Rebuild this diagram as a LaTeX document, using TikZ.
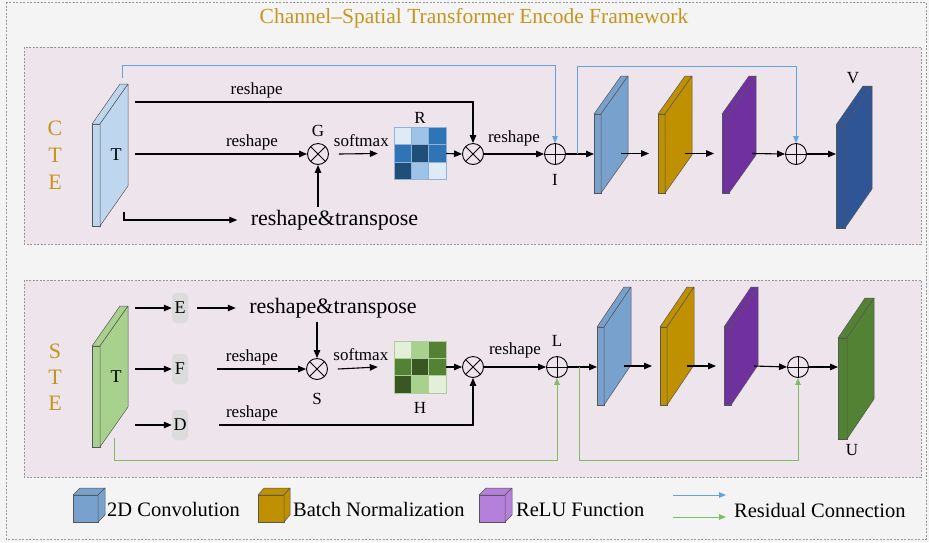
\documentclass[tikz,border=0pt]{standalone}
\usepackage{fontspec}
\setmainfont{Liberation Serif}
\usetikzlibrary{arrows.meta}

\definecolor{canvasbg}{RGB}{244,244,244}
\definecolor{panelbg}{RGB}{237,228,236}
\definecolor{framegray}{RGB}{150,150,150}
\definecolor{titlegold}{RGB}{197,150,30}
\definecolor{edgegray}{RGB}{85,85,85}
\definecolor{tblue}{RGB}{190,215,238}
\definecolor{tgreen}{RGB}{169,209,142}
\definecolor{convblue}{RGB}{120,161,205}
\definecolor{bngold}{RGB}{191,144,0}
\definecolor{relupurple}{RGB}{112,48,160}
\definecolor{relulight}{RGB}{181,128,220}
\definecolor{vblue}{RGB}{47,85,151}
\definecolor{ugreen}{RGB}{84,130,53}
\definecolor{resblue}{RGB}{100,162,222}
\definecolor{resgreen}{RGB}{128,188,98}
\definecolor{boxgray}{RGB}{220,220,220}
\definecolor{mb1}{RGB}{222,235,247}
\definecolor{mb2}{RGB}{157,195,230}
\definecolor{mb3}{RGB}{46,117,182}
\definecolor{mb4}{RGB}{31,78,121}
\definecolor{mg1}{RGB}{226,240,217}
\definecolor{mg2}{RGB}{169,209,142}
\definecolor{mg3}{RGB}{84,130,53}
\definecolor{mg4}{RGB}{56,87,35}
\definecolor{rline}{RGB}{150,175,215}
\definecolor{gline}{RGB}{175,205,155}

% slab: name, front centre, width, height, fill, depth x, depth y
\newcommand{\layer}[7]{%
  \node[inner sep=0pt, outer sep=0pt, minimum width=#3, minimum height=#4, fill=#5, draw=edgegray, line width=0.5pt] (#1) at (#2) {};
  \filldraw[fill=#5, draw=edgegray, line width=0.5pt, line join=round] (#1.north west) -- ++(#6,#7) -- ++(#3,0) -- (#1.north east) -- cycle;
  \filldraw[fill=#5, draw=edgegray, line width=0.5pt, line join=round] (#1.north east) -- ++(#6,#7) -- ++(0,#4) -- (#1.south east) -- cycle;
}

\begin{document}
\begin{tikzpicture}[x=1pt, y=-1pt,
    arr/.style={-{Triangle[length=8pt,width=6.5pt]}, line width=1.1pt},
    resb/.style={-{Triangle[length=7pt,width=5.5pt]}, line width=1pt, resblue},
    resg/.style={-{Triangle[length=7pt,width=5.5pt]}, line width=1pt, resgreen},
    lbl/.style={font=\fontsize{17}{20}\selectfont},
    big/.style={font=\fontsize{22}{26}\selectfont},
    side/.style={font=\fontsize{22}{26}\selectfont, text=titlegold},
    leg/.style={font=\fontsize{20.5}{24}\selectfont, inner sep=2pt},
    otimes/.style={circle, draw, line width=0.9pt, minimum size=21pt, inner sep=0pt,
      path picture={\draw[line width=0.9pt] (path picture bounding box.north west) -- (path picture bounding box.south east)
        (path picture bounding box.north east) -- (path picture bounding box.south west);}},
    oplus/.style={circle, draw, line width=0.9pt, minimum size=21pt, inner sep=0pt,
      path picture={\draw[line width=0.9pt] (path picture bounding box.north) -- (path picture bounding box.south)
        (path picture bounding box.west) -- (path picture bounding box.east);}},
    gbox/.style={rounded corners=4pt, fill=boxgray, minimum width=16pt, minimum height=30pt, inner sep=0pt, font=\fontsize{18}{21}\selectfont},
    mat/.style={minimum size=52pt, inner sep=0pt},
    panelbox/.style={draw=framegray, dash pattern=on 2pt off 1.5pt, line width=0.6pt}]

    \useasboundingbox (0,0) rectangle (929,542);
    \fill[canvasbg] (0,0) rectangle (929,542);
    \draw[panelbox] (6,2) rectangle (926,539);

    % Title
    \node[font=\fontsize{21.5}{25}\selectfont, text=titlegold] (title) at (474,18) {Channel–Spatial Transformer Encode Framework};

    % Panels
    \filldraw[panelbox, fill=panelbg] (24,47) rectangle (921,244);
    \filldraw[panelbox, fill=panelbg] (24,280) rectangle (921,477);

    % ---------------- CTE branch ----------------
    \node[side] (cl1) at (55,128) {C};
    \node[side] (cl2) at (55,155) {T};
    \node[side] (cl3) at (55,182) {E};

    \layer{tc}{96,175}{8}{102}{tblue}{28}{-40}
    \node[font=\fontsize{18}{21}\selectfont] (tclab) at (116,155) {T};

    \node[otimes] (G) at (318,154) {};
    \node[lbl, above=3pt] (glab) at (G.north) {G};
    \node[mat] (R) at (420,153.5) {};
    \begin{scope}[shift={(R.north west)}]
      \foreach \i/\j/\c in {0/0/mb1,1/0/mb2,2/0/mb3,0/1/mb3,1/1/mb4,2/1/mb3,0/2/mb4,1/2/mb2,2/2/mb1}
        \filldraw[fill=\c, draw=rline, line width=0.5pt] (\i*17.33,\j*17.33) rectangle ++(17.33,17.33);
    \end{scope}
    \node[lbl, above=0pt] (rlab) at (R.north) {R};
    \node[otimes] (mc) at (473,154) {};
    \node[oplus] (I) at (555,154) {};
    \node[lbl, below=6pt] (ilab) at (I.south) {I};
    \node[big] (rtc) at (334.5,220) {reshape\&transpose};

    \layer{convc}{597.5,153.5}{7}{79}{convblue}{27}{-38}
    \layer{bnc}{661.5,153.5}{7}{79}{bngold}{27}{-38}
    \layer{reluc}{725.5,153.5}{7}{79}{relupurple}{27}{-38}
    \node[oplus] (pc) at (796,154) {};
    \layer{vc}{840.5,176.5}{9}{103}{vblue}{27}{-39}
    \node[lbl] (vlab) at (853,78) {V};

    \coordinate (c1) at (135,102);
    \coordinate (c2) at (135,154);
    \coordinate (c3) at (124,212);
    \draw[arr] (c1) -- node[lbl, above, pos=0.36] {reshape} (c1 -| mc) -- (mc.north);
    \draw[arr] (c2) -- node[lbl, above, pos=0.68] {reshape} (G.west);
    \draw[arr] (c3) |- ([xshift=-10pt]rtc.west);
    \draw[arr] (rtc.north -| G) -- (G.south);
    \draw[arr] ([xshift=10pt]G.east) -- node[lbl, above=3pt, xshift=3pt] {softmax} ([xshift=-16pt]R.west);
    \draw[arr] (R.east) -- (mc.west);
    \draw[arr] (mc.east) -- node[lbl, above=4pt] {reshape} (I.west);
    \draw[arr] (I.east) -- (I.east -| convc.west);
    \draw[arr] ([xshift=20pt]convc.east) -- ([xshift=-9pt]bnc.west);
    \draw[arr] ([xshift=20pt]bnc.east) -- ([xshift=-8pt]reluc.west);
    \draw[arr] ([xshift=23pt]reluc.east) -- (pc.west);
    \draw[arr] (pc.east) -- (pc.east -| vc.west);

    % residual (blue)
    \coordinate (rb0) at (122,78);
    \coordinate (rb1) at (577,154);
    \draw[resb] (rb0) -- ++(0,-13) -| (I.north);
    \draw[resb] (rb1) -- ++(0,-88) -| (pc.north);

    % ---------------- STE branch ----------------
    \node[side] (sl1) at (55,351) {S};
    \node[side] (sl2) at (55,377) {T};
    \node[side] (sl3) at (55,403) {E};

    \layer{ts}{96,396.5}{8}{101}{tgreen}{28}{-40}
    \node[font=\fontsize{18}{21}\selectfont] (tslab) at (116,377) {T};

    \node[gbox] (E) at (180,308) {E};
    \node[gbox] (F) at (180,369) {F};
    \node[gbox] (D) at (180,425) {D};
    \node[big] (rts) at (333,308) {reshape\&transpose};
    \node[otimes] (S) at (317,369) {};
    \node[lbl, below=10pt] (slab) at (S.south) {S};
    \node[mat] (H) at (420,367) {};
    \begin{scope}[shift={(H.north west)}]
      \foreach \i/\j/\c in {0/0/mg1,1/0/mg2,2/0/mg3,0/1/mg3,1/1/mg4,2/1/mg3,0/2/mg4,1/2/mg2,2/2/mg1}
        \filldraw[fill=\c, draw=gline, line width=0.5pt] (\i*17.33,\j*17.33) rectangle ++(17.33,17.33);
    \end{scope}
    \node[lbl, below=6pt] (hlab) at (H.south) {H};
    \node[otimes] (ms) at (473,367) {};
    \node[oplus] (L) at (557,367) {};
    \node[lbl, above=6pt] (llab) at (L.north) {L};

    \layer{convs}{600.5,366}{7}{78}{convblue}{27}{-40}
    \layer{bns}{663.5,366}{7}{78}{bngold}{27}{-40}
    \layer{relus}{727.5,366}{7}{78}{relupurple}{27}{-40}
    \node[oplus] (ps) at (798,367) {};
    \layer{us}{842.5,388.5}{9}{101}{ugreen}{27}{-40}
    \node[lbl] (ulab) at (852,450) {U};

    \coordinate (se) at (135,308);
    \coordinate (sf) at (135,369);
    \coordinate (sd) at (135,425);
    \coordinate (d1) at (219,425);
    \draw[arr] (se) -- (E.west);
    \draw[arr] (sf) -- (F.west);
    \draw[arr] (sd) -- (D.west);
    \draw[arr] ([xshift=9pt]E.east) -- ([xshift=-10pt]rts.west);
    \draw[arr] (rts.south -| S) -- (S.north);
    \draw[arr] ([xshift=29pt]F.east) -- node[lbl, above, pos=0.39] {reshape} (S.west);
    \draw[arr] ([xshift=10pt]S.east) -- node[lbl, above=3pt, xshift=3pt] {softmax} ([xshift=-16pt]H.west);
    \draw[arr] (H.east) -- (ms.west);
    \draw[arr] (d1) -- node[lbl, above, pos=0.13] {reshape} (d1 -| ms) -- (ms.south);
    \draw[arr] (ms.east) -- node[lbl, above=5pt] {reshape} (L.west);
    \draw[arr] (L.east) -- (L.east -| convs.west);
    \draw[arr] ([xshift=20pt]convs.east) -- ([xshift=-8pt]bns.west);
    \draw[arr] ([xshift=20pt]bns.east) -- ([xshift=-8pt]relus.west);
    \draw[arr] ([xshift=23pt]relus.east) -- (ps.west);
    \draw[arr] (ps.east) -- (ps.east -| us.west);

    % residual (green)
    \coordinate (rg0) at (114,438);
    \coordinate (rg1) at (579,367);
    \draw[resg] (rg0) -- ++(0,22) -| (L.south);
    \draw[resg] (rg1) -- ++(0,93) -| (ps.south);

    % ---------------- Legend ----------------
    \layer{lconv}{85.5,508.5}{25}{27}{convblue}{7}{-7}
    \node[leg, anchor=base west] (lt1) at (105,516) {2D Convolution};
    \layer{lbn}{271,508.5}{26}{27}{bngold}{6}{-7}
    \node[leg, anchor=base west] (lt2) at (291,516) {Batch Normalization};
    \layer{lrelu}{492,508.5}{26}{27}{relulight}{7}{-7}
    \node[leg, anchor=base west] (lt3) at (514,516) {ReLU Function};
    \coordinate (lb0) at (673,495);
    \coordinate (lg0) at (673,517);
    \draw[resb] (lb0) -- ++(53,0);
    \draw[resg] (lg0) -- ++(53,0);
    \node[leg, anchor=base west] (lt4) at (732,517) {Residual Connection};
\end{tikzpicture}
\end{document}
